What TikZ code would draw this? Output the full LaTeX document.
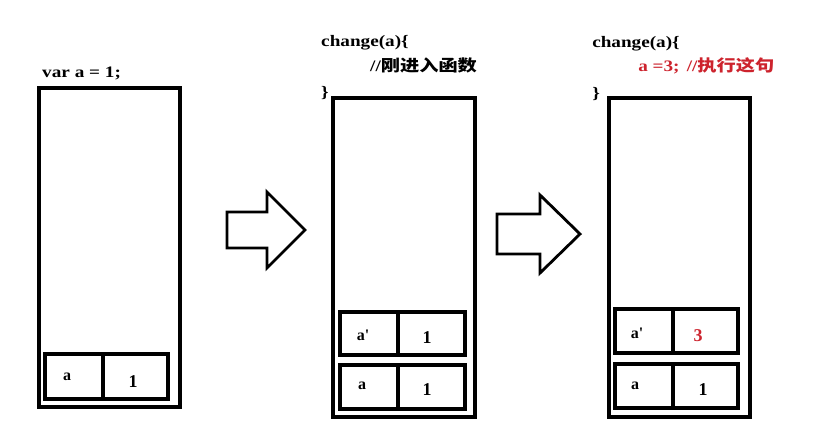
\documentclass[tikz,border=0pt]{standalone}
\usepackage{fontspec}
\setmainfont{Liberation Serif}
\newfontfamily\cjk{Noto Sans CJK SC}
\definecolor{codered}{RGB}{205,35,45}
\newcommand{\sq}{{\fontspec{Liberation Serif}[Ligatures=NoCommon]\bfseries\char"27}}
\begin{document}
\begin{tikzpicture}[x=1pt,y=-1pt,
  frame/.style={draw,line width=3.2pt,inner sep=0pt,outer sep=0pt},
  cell/.style={draw,line width=3.2pt,inner sep=0pt,outer sep=0pt},
  code/.style={anchor=base west,inner sep=0pt,font=\fontsize{16}{16}\selectfont\bfseries,xscale=1.2},
  val/.style={inner sep=0pt,font=\fontsize{16}{16}\selectfont\bfseries},
  num/.style={inner sep=0pt,font=\fontsize{18}{18}\selectfont\bfseries},
  bigarrow/.style={draw,line width=2.8pt,fill=white,line join=miter}]
\useasboundingbox (0,0) rectangle (834,434);
\fill[white] (0,0) rectangle (834,434);
% panel 1
\node[code] (t1) at (42,77) {var a = 1;};
\node[frame,minimum width=141pt,minimum height=319pt] (f1) at (109.5,247.5) {};
\node[cell,minimum width=58pt,minimum height=45pt] (c1l) at (74,376.5) {};
\node[cell,minimum width=65pt,minimum height=45pt] (c1r) at (135.5,376.5) {};
\node[val] (v1a) at (67,377) {a};
\node[num] (v1b) at (133,382) {1};
% arrow 1
\draw[bigarrow] (227,212) -- (267,212) -- (267,192) -- (305,230) -- (267,268) -- (267,248) -- (227,248) -- cycle;
% panel 2
\node[code] (t2a) at (321,46) {change(a)\{};
\node[code] (t2b) at (370,71) {//{\cjk 刚进入函数}};
\node[code] (t2c) at (321,97) {\}};
\node[frame,minimum width=142pt,minimum height=319pt] (f2) at (404,257.5) {};
\node[cell,minimum width=58pt,minimum height=43pt] (c2ul) at (369,333.5) {};
\node[cell,minimum width=67pt,minimum height=43pt] (c2ur) at (431.5,333.5) {};
\node[cell,minimum width=58pt,minimum height=44pt] (c2ll) at (369,387) {};
\node[cell,minimum width=67pt,minimum height=44pt] (c2lr) at (431.5,387) {};
\node[val] (v2a) at (363,335) {a\sq};
\node[num] (v2b) at (427,338) {1};
\node[val] (v2c) at (362,386) {a};
\node[num] (v2d) at (427,390) {1};
% arrow 2
\draw[bigarrow] (497,214) -- (540,214) -- (540,195) -- (580,234) -- (540,273) -- (540,254) -- (497,254) -- cycle;
% panel 3
\node[code] (t3a) at (592,47) {change(a)\{};
\node[code,text=codered] (t3b) at (638,71) {a =3;\hspace{6pt}//{\cjk 执行这句}};
\node[code] (t3c) at (592,98) {\}};
\node[frame,minimum width=141pt,minimum height=319pt] (f3) at (679.5,257.5) {};
\node[cell,minimum width=58pt,minimum height=44pt] (c3ul) at (644,331) {};
\node[cell,minimum width=65pt,minimum height=44pt] (c3ur) at (705.5,331) {};
\node[cell,minimum width=58pt,minimum height=44pt] (c3ll) at (644,386) {};
\node[cell,minimum width=65pt,minimum height=44pt] (c3lr) at (705.5,386) {};
\node[val] (v3a) at (637,333) {a\sq};
\node[num,text=codered] (v3b) at (698,336) {3};
\node[val] (v3c) at (635,386) {a};
\node[num] (v3d) at (703,390) {1};
\end{tikzpicture}
\end{document}
